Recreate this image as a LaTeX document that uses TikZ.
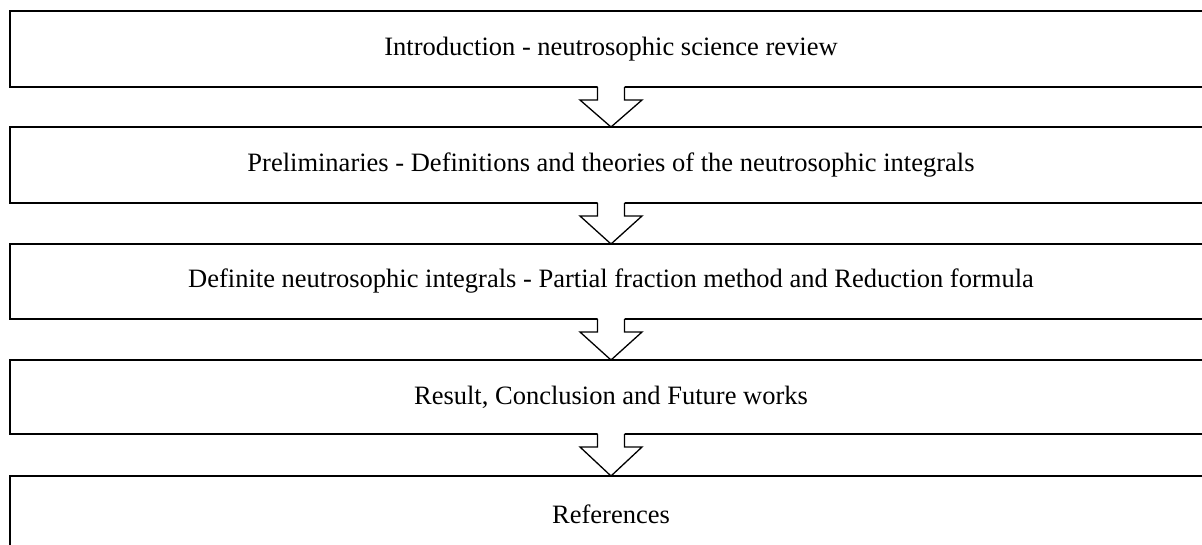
\documentclass[tikz,border=0pt]{standalone}
\usepackage{fontspec}
\setmainfont{Liberation Serif}
\usetikzlibrary{calc}
\begin{document}
\begin{tikzpicture}[x=1pt,y=-1pt,
  box/.style={draw, line width=2.2pt, minimum width=1202pt, minimum height=76pt,
    inner sep=0pt, outer sep=0pt, anchor=north, font=\fontsize{26.5}{30}\selectfont},
  blockarrow/.style={line width=1.3pt, line join=miter}]
\useasboundingbox (0,0) rectangle (1202,544);
\clip (0,0) rectangle (1202,544);
\node[box] (b1) at (611,11) {Introduction - neutrosophic science review};
\node[box] (b2) at (611,127) {Preliminaries - Definitions and theories of the neutrosophic integrals};
\node[box, minimum height=75pt] (b3) at (611,244) {Definite neutrosophic integrals - Partial fraction method and Reduction formula};
\node[box, minimum height=74pt] (b4) at (611,360) {Result, Conclusion and Future works};
\node[box] (b5) at (611,476) {References};
\foreach \a/\b in {b1/b2,b2/b3,b3/b4,b4/b5}{
  \fill[white] ($(\a.south)+(-13.5,-2)$) -- ($(\a.south)+(-13.5,13)$) -- ($(\a.south)+(-31,13)$)
    -- (\b.north) -- ($(\a.south)+(31,13)$) -- ($(\a.south)+(13.5,13)$) -- ($(\a.south)+(13.5,-2)$) -- cycle;
  \draw[blockarrow] ($(\a.south)+(-13.5,0)$) -- ($(\a.south)+(-13.5,13)$) -- ($(\a.south)+(-31,13)$)
    -- (\b.north) -- ($(\a.south)+(31,13)$) -- ($(\a.south)+(13.5,13)$) -- ($(\a.south)+(13.5,0)$);
}
\end{tikzpicture}
\end{document}
